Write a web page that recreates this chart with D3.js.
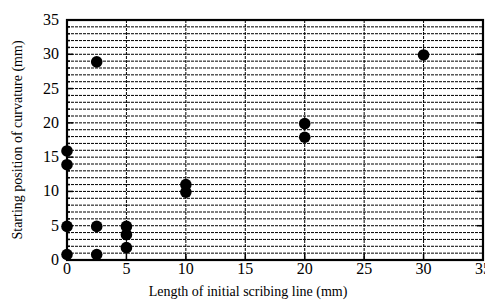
<!DOCTYPE html>
<html lang="en">
<head>
  <meta charset="UTF-8">
  <title>Starting position of curvature</title>
  <script src="https://d3js.org/d3.v7.min.js"></script>
  <style>
    body { margin: 0; background: white; }
  </style>
</head>
<body>
  <svg id="chart" width="485" height="301"></svg>
  <script>
    // scribing line length (mm) and starting position of curvature (mm)
    const lengths = [0, 0, 0, 0, 2.5, 2.5, 2.5, 5, 5, 5, 10, 10, 20, 20, 30];
    const positions = [0.8, 4.9, 13.9, 15.9, 28.9, 4.9, 0.8, 4.9, 3.7, 1.8, 11.0, 9.9, 19.9, 17.9, 29.9];
    const xTicks = [0, 5, 10, 15, 20, 25, 30, 35];
    const yTicks = [0, 5, 10, 15, 20, 25, 30, 35];

    const serif = "'Liberation Serif', 'Times New Roman', Times, serif";
    const svg = d3.select("#chart"),
      pLeft = 67, pRight = 483, pTop = 20, pBottom = 260;

    svg.append("rect").attr("width", 485).attr("height", 301).attr("fill", "white");

    const x = d3.scaleLinear().domain([0, 35]).range([pLeft, pRight]);
    const y = d3.scaleLinear().domain([0, 35]).range([pBottom, pTop]);

    // horizontal grid every 1 mm
    svg.append("g").selectAll("line")
      .data(d3.range(1, 35))
      .enter().append("line")
      .attr("x1", pLeft).attr("x2", pRight)
      .attr("y1", d => y(d)).attr("y2", d => y(d))
      .attr("stroke", "black").attr("stroke-width", 1)
      .attr("stroke-dasharray", "3,1");

    // vertical grid every 5 mm
    svg.append("g").selectAll("line")
      .data(xTicks.slice(1, -1))
      .enter().append("line")
      .attr("x1", d => x(d)).attr("x2", d => x(d))
      .attr("y1", pTop).attr("y2", pBottom)
      .attr("stroke", "black").attr("stroke-width", 1)
      .attr("stroke-dasharray", "3,1");

    // inward ticks
    svg.append("g").selectAll("line")
      .data(d3.range(0, 36))
      .enter().append("line")
      .attr("x1", pLeft).attr("x2", d => pLeft + (d % 5 === 0 ? 6 : 3))
      .attr("y1", d => y(d)).attr("y2", d => y(d))
      .attr("stroke", "black").attr("stroke-width", 1.5);
    svg.append("g").selectAll("line")
      .data(yTicks)
      .enter().append("line")
      .attr("x1", pRight).attr("x2", pRight - 6)
      .attr("y1", d => y(d)).attr("y2", d => y(d))
      .attr("stroke", "black").attr("stroke-width", 1.5);
    svg.append("g").selectAll("line")
      .data(xTicks)
      .enter().append("line")
      .attr("x1", d => x(d)).attr("x2", d => x(d))
      .attr("y1", pBottom).attr("y2", pBottom - 6)
      .attr("stroke", "black").attr("stroke-width", 1.5);

    // frame
    svg.append("rect")
      .attr("x", pLeft).attr("y", pTop)
      .attr("width", pRight - pLeft).attr("height", pBottom - pTop)
      .attr("fill", "none").attr("stroke", "black").attr("stroke-width", 2.2);

    // tick labels
    svg.append("g").selectAll("text")
      .data(xTicks)
      .enter().append("text")
      .attr("x", d => x(d)).attr("y", pBottom + 14)
      .attr("text-anchor", "middle")
      .attr("font-family", serif).attr("font-size", 16)
      .text(d => d);
    svg.append("g").selectAll("text")
      .data(yTicks)
      .enter().append("text")
      .attr("x", pLeft - 8).attr("y", d => y(d) + 5)
      .attr("text-anchor", "end")
      .attr("font-family", serif).attr("font-size", 16)
      .text(d => d);

    // axis titles
    svg.append("text")
      .attr("x", 248).attr("y", 296)
      .attr("text-anchor", "middle")
      .attr("font-family", serif).attr("font-size", 14)
      .text("Length of initial scribing line (mm)");
    svg.append("text")
      .attr("transform", `translate(22,${(pTop + pBottom) / 2}) rotate(-90)`)
      .attr("text-anchor", "middle")
      .attr("font-family", serif).attr("font-size", 14)
      .text("Starting position of curvature (mm)");

    // points
    svg.append("g").selectAll("circle")
      .data(lengths.map((d, i) => [d, positions[i]]))
      .enter().append("circle")
      .attr("cx", d => x(d[0]))
      .attr("cy", d => y(d[1]))
      .attr("r", 5.8)
      .attr("fill", "black");
  </script>
</body>
</html>
